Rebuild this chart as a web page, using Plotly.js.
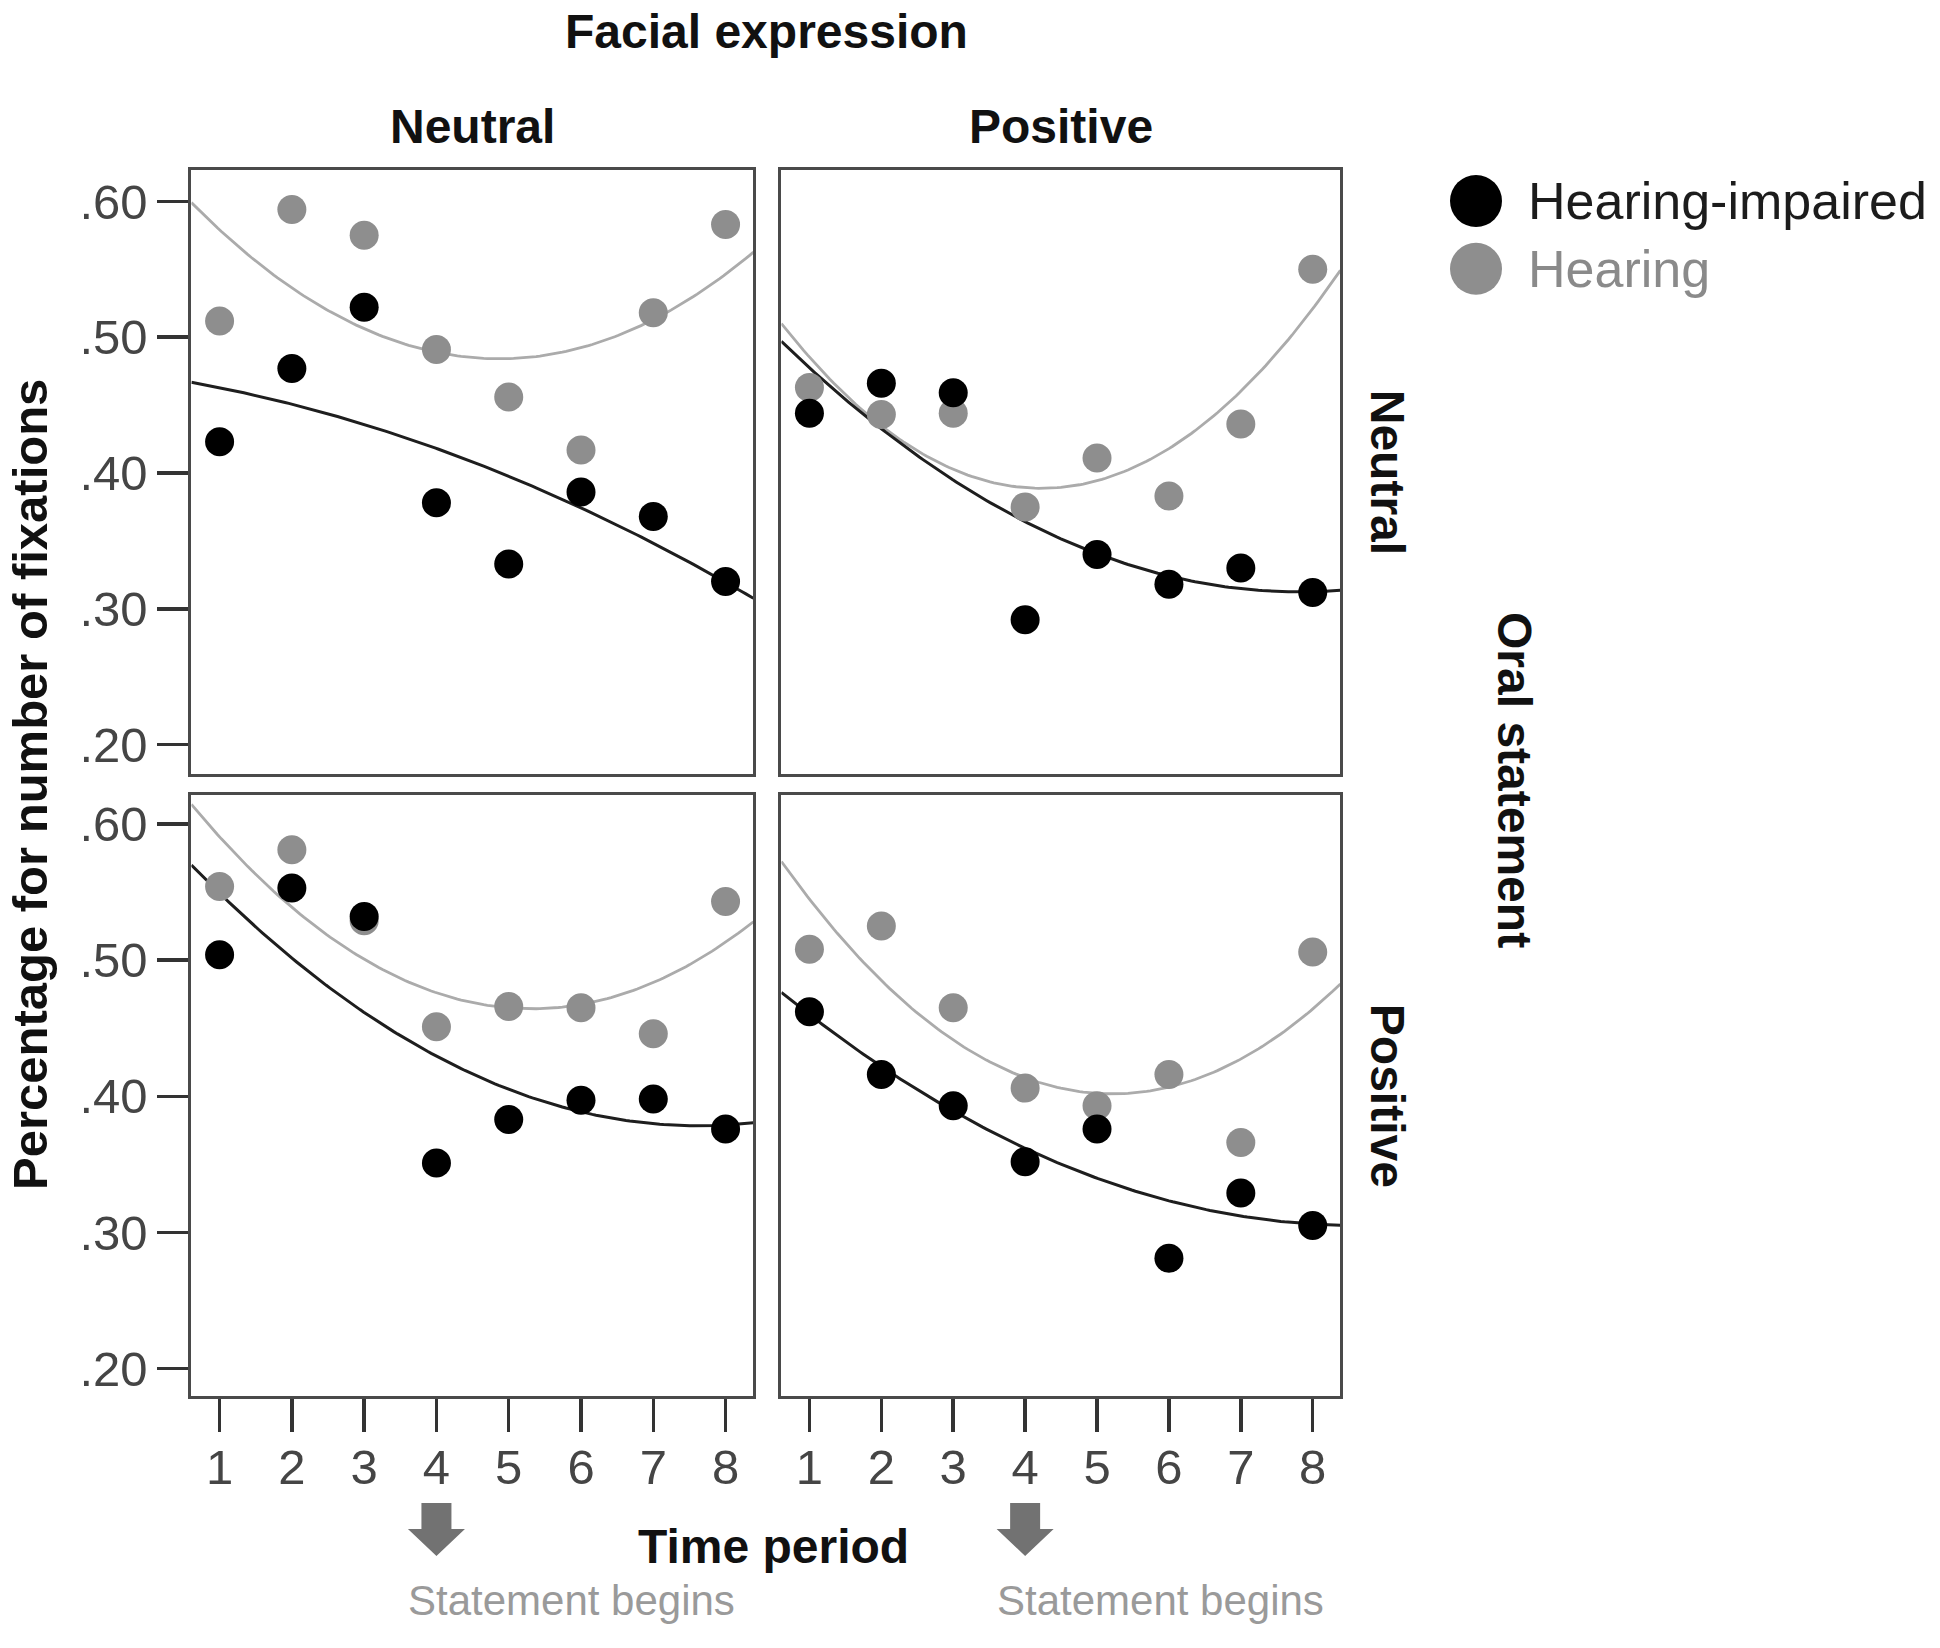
<!DOCTYPE html>
<html><head><meta charset="utf-8">
<script src="https://cdn.plot.ly/plotly-3.0.1.min.js"></script>
<style>html,body{margin:0;padding:0;background:#fff;} #chart{width:1940px;height:1648px;}</style>
</head><body><div id="chart"></div>
<script>
// ---------------- data ----------------
const timePeriods = [1, 2, 3, 4, 5, 6, 7, 8];
const groups = ['Hearing-impaired', 'Hearing'];
const facialExpressions = ['Neutral', 'Positive'];
const oralStatements = ['Neutral', 'Positive'];
const yTickValues = [0.2, 0.3, 0.4, 0.5, 0.6];
const yTickLabels = ['.20', '.30', '.40', '.50', '.60'];
const statementBeginsAt = 4;

// Oral statement: Neutral / Facial expression: Neutral
const impairedOralNeutralFaceNeutral = [0.423, 0.477, 0.522, 0.378, 0.333, 0.386, 0.368, 0.320];
const hearingOralNeutralFaceNeutral  = [0.512, 0.594, 0.575, 0.491, 0.456, 0.417, 0.518, 0.583];
// Oral statement: Neutral / Facial expression: Positive
const impairedOralNeutralFacePositive = [0.444, 0.466, 0.459, 0.292, 0.340, 0.318, 0.330, 0.312];
const hearingOralNeutralFacePositive  = [0.463, 0.443, 0.444, 0.375, 0.411, 0.383, 0.436, 0.550];
// Oral statement: Positive / Facial expression: Neutral
const impairedOralPositiveFaceNeutral = [0.504, 0.553, 0.532, 0.351, 0.383, 0.397, 0.398, 0.376];
const hearingOralPositiveFaceNeutral  = [0.554, 0.581, 0.529, 0.451, 0.466, 0.465, 0.446, 0.543];
// Oral statement: Positive / Facial expression: Positive
const impairedOralPositiveFacePositive = [0.462, 0.416, 0.393, 0.352, 0.376, 0.281, 0.329, 0.305];
const hearingOralPositiveFacePositive  = [0.508, 0.525, 0.465, 0.406, 0.393, 0.416, 0.366, 0.506];

// ---------------- styling ----------------
const W = 1940, H = 1648;
const colorsMarker = ['#000000', '#8e8e8e'];
const colorsLine = ['#1e1e1e', '#ababab'];
const xRange = [0.61, 8.385];
const yRangeTop = [0.1787, 0.6231];
const yRangeBottom = [0.1797, 0.621];
const colDomains = [[191.4 / W, 753.4 / W], [781.4 / W, 1340.4 / W]];
const rowDomains = [[1 - 773.5 / H, 1 - 170 / H], [1 - 1396.2 / H, 1 - 795.4 / H]];
const FONT = 'Liberation Sans, Arial, sans-serif';

// quadratic least squares fit (the reference shows quadratic fit lines)
function quadFit(xs, ys) {
  let S = [0, 0, 0, 0, 0], T = [0, 0, 0];
  for (let i = 0; i < xs.length; i++) {
    let p = 1;
    for (let k = 0; k < 5; k++) { S[k] += p; if (k < 3) T[k] += p * ys[i]; p *= xs[i]; }
  }
  const A = [[S[0], S[1], S[2], T[0]], [S[1], S[2], S[3], T[1]], [S[2], S[3], S[4], T[2]]];
  for (let c = 0; c < 3; c++) {
    for (let r = c + 1; r < 3; r++) {
      const f = A[r][c] / A[c][c];
      for (let k = c; k < 4; k++) A[r][k] -= f * A[c][k];
    }
  }
  const coef = [0, 0, 0];
  for (let r = 2; r >= 0; r--) {
    let s = A[r][3];
    for (let k = r + 1; k < 3; k++) s -= A[r][k] * coef[k];
    coef[r] = s / A[r][r];
  }
  return x => coef[0] + coef[1] * x + coef[2] * x * x;
}

const panels = [
  { ax: '', row: 0, col: 0, series: [impairedOralNeutralFaceNeutral, hearingOralNeutralFaceNeutral] },
  { ax: '2', row: 0, col: 1, series: [impairedOralNeutralFacePositive, hearingOralNeutralFacePositive] },
  { ax: '3', row: 1, col: 0, series: [impairedOralPositiveFaceNeutral, hearingOralPositiveFaceNeutral] },
  { ax: '4', row: 1, col: 1, series: [impairedOralPositiveFacePositive, hearingOralPositiveFacePositive] },
];

const traces = [];
const curveX = [];
for (let i = 0; i <= 150; i++) curveX.push(xRange[0] + (xRange[1] - xRange[0]) * i / 150);

panels.forEach(p => {
  const xa = 'x' + p.ax, ya = 'y' + p.ax;
  [1, 0].forEach(g => {
    const f = quadFit(timePeriods, p.series[g]);
    traces.push({ type: 'scatter', mode: 'lines', x: curveX, y: curveX.map(f), xaxis: xa, yaxis: ya,
      line: { color: colorsLine[g], width: g === 0 ? 3 : 2.8 }, showlegend: false, hoverinfo: 'skip' });
  });
  [1, 0].forEach(g => {
    traces.push({ type: 'scatter', mode: 'markers', x: timePeriods, y: p.series[g], xaxis: xa, yaxis: ya,
      marker: { color: colorsMarker[g], size: 29, line: { width: 0 } }, name: groups[g], showlegend: false });
  });
});

// custom legend (large circles) on a hidden axis pair
traces.push({ type: 'scatter', mode: 'markers', x: groups.map(() => 0), y: groups.map((g, i) => groups.length - 1 - i),
  xaxis: 'x5', yaxis: 'y5', marker: { color: colorsMarker, size: 52, line: { width: 0 } },
  showlegend: false, hoverinfo: 'skip', cliponaxis: false });

const baseAxis = {
  showgrid: false, zeroline: false, showline: true, mirror: true,
  linecolor: '#4a4a4a', linewidth: 3, fixedrange: true,
  tickfont: { family: FONT, size: 49, color: '#454545' },
  tickcolor: '#333333', tickwidth: 3.5
};

const layout = {
  width: W, height: H, margin: { l: 0, r: 0, t: 0, b: 0 },
  paper_bgcolor: '#ffffff', plot_bgcolor: '#ffffff', showlegend: false,
  annotations: [], shapes: []
};

panels.forEach(p => {
  const xk = 'xaxis' + p.ax, yk = 'yaxis' + p.ax;
  const bottom = p.row === 1, left = p.col === 0;
  layout[xk] = Object.assign({}, baseAxis, {
    domain: colDomains[p.col], anchor: 'y' + p.ax, range: xRange,
    tickmode: 'array', tickvals: timePeriods, ticktext: timePeriods.map(String),
    ticks: bottom ? 'outside' : '', ticklen: 33, showticklabels: bottom, ticklabelstandoff: -7
  });
  layout[yk] = Object.assign({}, baseAxis, {
    domain: rowDomains[p.row], anchor: 'x' + p.ax, range: p.row === 0 ? yRangeTop : yRangeBottom,
    tickmode: 'array', tickvals: yTickValues, ticktext: yTickLabels,
    ticks: left ? 'outside' : '', ticklen: 31, showticklabels: left
  });
});

const legX = 1476 / W;
const legY0 = 1 - 201 / H, legY1 = 1 - 268.8 / H, legStep = legY0 - legY1;
layout.xaxis5 = { domain: [legX - 0.02, legX + 0.02], range: [-1, 1], visible: false, fixedrange: true };
layout.yaxis5 = { domain: [legY1 - legStep / 2, legY0 + legStep / 2], range: [-0.5, 1.5], visible: false, fixedrange: true };

const bold = (t) => '<b>' + t + '</b>';
const titleFont = { family: FONT, size: 48, color: '#111111' };
const ann = layout.annotations;

ann.push({ text: bold('Facial expression'), xref: 'paper', yref: 'paper', x: 766 / W, y: 1 - 31 / H,
  showarrow: false, font: titleFont, xanchor: 'center', yanchor: 'middle' });
facialExpressions.forEach((f, c) => {
  ann.push({ text: bold(f), xref: 'paper', yref: 'paper', x: (colDomains[c][0] + colDomains[c][1]) / 2,
    y: 1 - 126 / H, showarrow: false, font: titleFont, xanchor: 'center', yanchor: 'middle' });
});
oralStatements.forEach((o, r) => {
  ann.push({ text: bold(o), xref: 'paper', yref: 'paper', x: 1387 / W,
    y: (rowDomains[r][0] + rowDomains[r][1]) / 2, showarrow: false, font: titleFont, textangle: 90,
    xanchor: 'center', yanchor: 'middle' });
});
ann.push({ text: bold('Oral statement'), xref: 'paper', yref: 'paper', x: 1515 / W, y: 1 - 780 / H,
  showarrow: false, font: titleFont, textangle: 90, xanchor: 'center', yanchor: 'middle' });
ann.push({ text: bold('Percentage for number of fixations'), xref: 'paper', yref: 'paper', x: 30 / W, y: 1 - 785 / H,
  showarrow: false, font: { family: FONT, size: 49, color: '#111111' }, textangle: -90, xanchor: 'center', yanchor: 'middle' });
ann.push({ text: bold('Time period'), xref: 'paper', yref: 'paper', x: 773 / W, y: 1 - 1546 / H,
  showarrow: false, font: titleFont, xanchor: 'center', yanchor: 'middle' });

// "Statement begins" block arrows (pixel-sized shapes anchored at time period 4)
const arrowPath = 'M-15,53 L15,53 L15,27 L28.5,27 L0,0 L-28.5,27 L-15,27 Z';
['x3', 'x4'].forEach(xr => {
  layout.shapes.push({ type: 'path', xref: xr, yref: 'paper', xsizemode: 'pixel', ysizemode: 'pixel',
    xanchor: statementBeginsAt, yanchor: 1 - 1556 / H, path: arrowPath,
    fillcolor: '#727272', line: { width: 0 } });
  ann.push({ text: 'Statement begins', xref: xr, yref: 'paper', x: statementBeginsAt, y: 1 - 1600 / H,
    xshift: -30, showarrow: false, xanchor: 'left', yanchor: 'middle',
    font: { family: FONT, size: 42, color: '#9a9a9a' } });
});

groups.forEach((g, i) => {
  ann.push({ text: g, xref: 'x5', yref: 'y5', x: 0, y: groups.length - 1 - i, xshift: 50,
    showarrow: false, xanchor: 'left', yanchor: 'middle',
    font: { family: FONT, size: 52, color: i === 0 ? '#1c1c1c' : '#8a8a8a' } });
});

Plotly.newPlot('chart', traces, layout, { staticPlot: true, displayModeBar: false });
</script>
</body></html>
